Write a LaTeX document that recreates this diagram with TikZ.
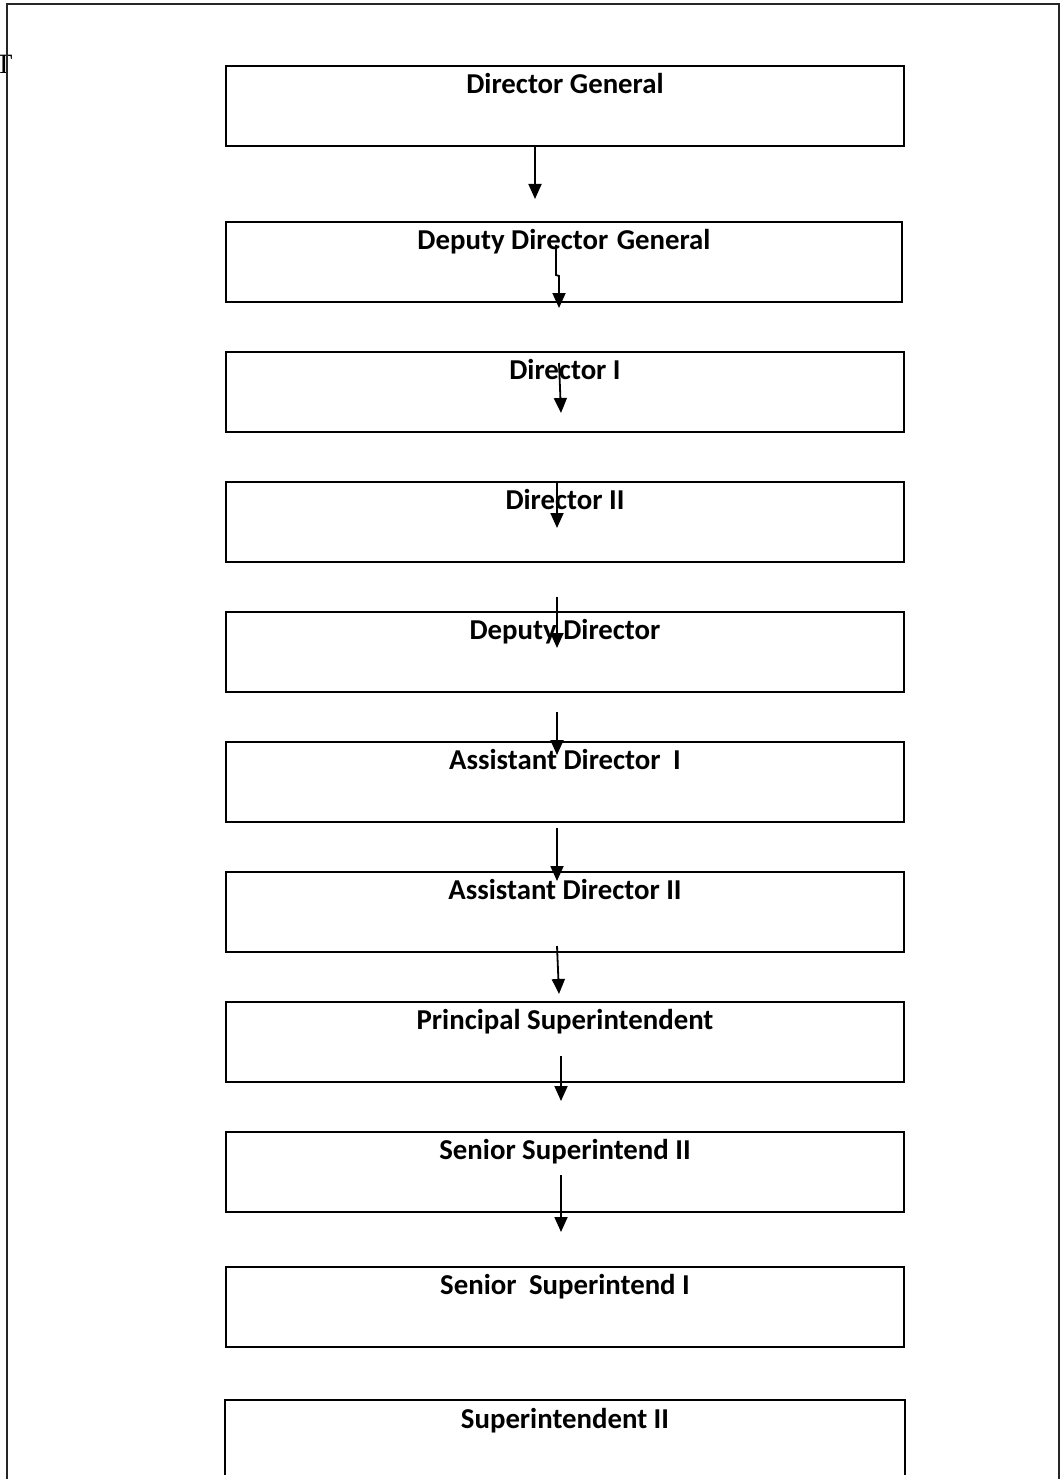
\documentclass[tikz,border=0pt]{standalone}
\usepackage{fontspec}
\setmainfont{Carlito}
\newfontfamily\serifT{Liberation Serif}
\usetikzlibrary{arrows.meta}
\begin{document}
\begin{tikzpicture}[x=1pt,y=-1pt,
  rankbox/.style={draw, line width=2.2pt, minimum width=678pt, inner xsep=0pt, inner ysep=0pt,
    text height=27pt, text depth=53pt, anchor=north, font=\fontsize{28.8}{32}\selectfont\bfseries},
  opentext/.style={rankbox, draw=none},
  conn/.style={line width=1.8pt, -{Triangle[width=13pt,length=15pt]}},
  frame/.style={line width=2pt, draw=black!85}]
\useasboundingbox (0,0) rectangle (1060,1479);
\fill[white] (0,0) rectangle (1060,1479);
\node[font=\fontsize{28}{30}\selectfont\serifT, anchor=north] (tglyph) at (4,52) {T};
\draw[frame] (7,1479) -- (7,4) -- (1059,4) -- (1059,1479);

\node[rankbox] (b1) at (565,65) {Director General};
\node[rankbox, minimum width=676pt] (b2) at (564,221) {Deputy Director\hspace{2pt} General};
\node[rankbox] (b3) at (565,351) {Director I};
\node[rankbox] (b4) at (565,481) {Director II};
\node[rankbox] (b5) at (565,611) {Deputy Director};
\node[rankbox] (b6) at (565,741) {Assistant Director\hspace{6pt} I};
\node[rankbox] (b7) at (565,871) {Assistant Director II};
\node[rankbox] (b8) at (565,1001) {Principal Superintendent};
\node[rankbox] (b9) at (565,1131) {Senior Superintend II};
\node[rankbox] (b10) at (565,1266) {Senior\hspace{6pt} Superintend I};
\node[opentext] (b11) at (565,1400) {Superintendent II};
\draw[line width=2.2pt] ([yshift=7pt]b11.south west) -- (b11.north west) -- (b11.north east) -- ([yshift=7pt]b11.south east);

% connectors
\coordinate (s1) at (535,145);  \coordinate (e1) at (535,199);
\coordinate (s2) at (556,245);  \coordinate (m2) at (556,275); \coordinate (n2) at (559,276); \coordinate (e2) at (559,308);
\coordinate (s3) at (559,363);  \coordinate (e3) at (561,413);
\coordinate (s4) at (557,482);  \coordinate (e4) at (557,528);
\coordinate (s5) at (557,597);  \coordinate (e5) at (557,648);
\coordinate (s6) at (557,712);  \coordinate (e6) at (557,755);
\coordinate (s7) at (557,828);  \coordinate (e7) at (557,881);
\coordinate (s8) at (557,946);  \coordinate (e8) at (559,994);
\coordinate (s9) at (561,1056); \coordinate (e9) at (561,1101);
\coordinate (s10) at (561,1175); \coordinate (e10) at (561,1232);

\draw[conn] (s1) -- (e1);
\draw[conn] (s2) -- (m2) -- (n2) -- (e2);
\draw[conn] (s3) -- (e3);
\draw[conn] (s4) -- (e4);
\draw[conn] (s5) -- (e5);
\draw[conn] (s6) -- (e6);
\draw[conn] (s7) -- (e7);
\draw[conn] (s8) -- (e8);
\draw[conn] (s9) -- (e9);
\draw[conn] (s10) -- (e10);
\end{tikzpicture}
\end{document}
